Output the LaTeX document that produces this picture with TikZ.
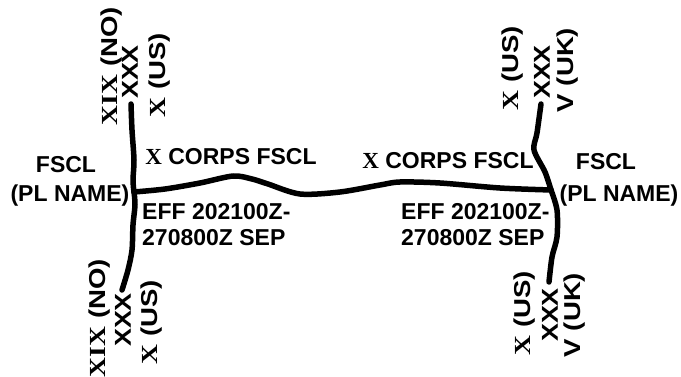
\documentclass[tikz,border=0pt]{standalone}
\usepackage{fontspec}
\setmainfont{Liberation Sans}
\newfontfamily\romanx{Liberation Serif}
\begin{document}
\begin{tikzpicture}[x=1pt,y=-1pt,
  fscl/.style={line width=5.5pt,line cap=round,line join=round},
  lbl/.style={inner sep=0pt,font=\fontsize{23}{26}\selectfont\bfseries},
  unit/.style={inner sep=0pt,rotate=90,font=\fontsize{23}{26}\selectfont\bfseries},
]
\useasboundingbox (0,0) rectangle (681,377);

% junctions and line ends
\coordinate (ltop) at (131,104);
\coordinate (lj) at (134,192);
\coordinate (lbot) at (122,290);
\coordinate (rtop) at (541,104);
\coordinate (rj) at (551,190);
\coordinate (rbot) at (549,282);

% left boundary
\draw[fscl] plot[smooth,tension=0.5] coordinates {(ltop) (132,130) (134,160) (133,180) (lj)};
\draw[fscl] plot[smooth,tension=0.5] coordinates {(lj) (135,205) (133,225) (132,250) (128,270) (lbot)};
% right boundary
\draw[fscl] plot[smooth,tension=0.5] coordinates {(rtop) (537,133) (534,150) (545,172) (rj)};
\draw[fscl] plot[smooth,tension=0.5] coordinates {(rj) (557,210) (557,237) (552,257) (rbot)};
% coordination line
\draw[fscl] plot[smooth,tension=0.5] coordinates {(lj) (165,189) (200,183) (233,176) (252,179) (268,184) (300,194) (340,192) (380,185) (400,182) (440,183) (500,188) (rj)};

% left side texts
\node[lbl] (lf) at (66,165) {FSCL};
\node[lbl] (lpl) at (70,196) {(PL NAME)};
\node[lbl] (lc) at (231,157) {{\romanx X} CORPS FSCL};
\node[lbl,anchor=west,align=left] (le) at (142,225) {EFF 202100Z-\\270800Z SEP};

% right side texts
\node[lbl] (rc) at (448,161) {{\romanx X} CORPS FSCL};
\node[lbl] (rf) at (606,162) {FSCL};
\node[lbl] (rpl) at (619,196) {(PL NAME)};
\node[lbl,anchor=west,align=left] (re) at (401,225) {EFF 202100Z-\\270800Z SEP};

% unit labels, top left
\node[unit] (u1) at (112,66) {\scalebox{1.2}[1]{{\romanx XIX} (NO)}};
\node[unit] (u2) at (130,72) {\scalebox{1.17}[1]{XXX}};
\node[unit] (u3) at (160,75) {\scalebox{1.2}[1]{{\romanx X} (US)}};
% unit labels, top right
\node[unit] (u4) at (513,68) {\scalebox{1.2}[1]{{\romanx X} (US)}};
\node[unit] (u5) at (542,72) {\scalebox{1.17}[1]{XXX}};
\node[unit] (u6) at (568,70) {\scalebox{1.2}[1]{V (UK)}};
% unit labels, bottom left
\node[unit] (u7) at (100,318) {\scalebox{1.2}[1]{{\romanx XIX} (NO)}};
\node[unit] (u8) at (123,320) {\scalebox{1.17}[1]{XXX}};
\node[unit] (u9) at (152,322) {\scalebox{1.2}[1]{{\romanx X} (US)}};
% unit labels, bottom right
\node[unit] (u10) at (525,313) {\scalebox{1.2}[1]{{\romanx X} (US)}};
\node[unit] (u11) at (550,315) {\scalebox{1.17}[1]{XXX}};
\node[unit] (u12) at (575,315) {\scalebox{1.2}[1]{V (UK)}};
\end{tikzpicture}
\end{document}
